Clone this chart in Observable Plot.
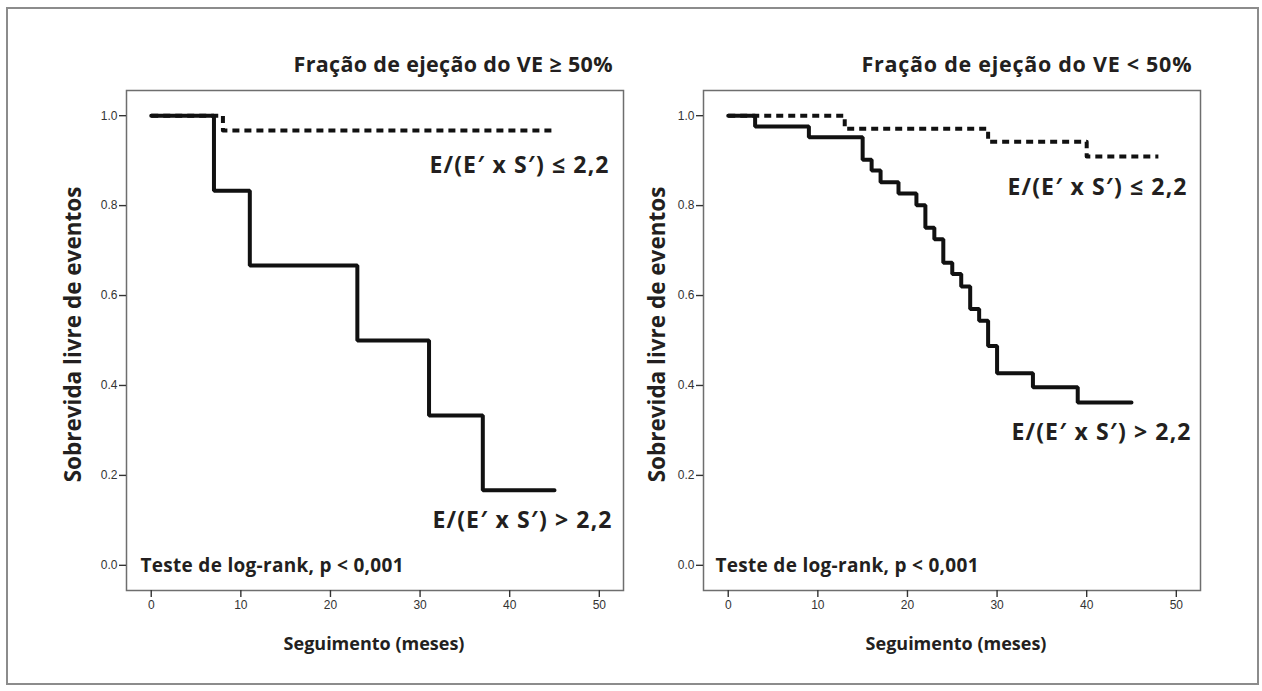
<!DOCTYPE html>
<html>
<head>
<meta charset="utf-8">
<script src="https://cdn.jsdelivr.net/npm/d3@7"></script>
<script src="https://cdn.jsdelivr.net/npm/@observablehq/plot@0.6"></script>
<style>
  html, body { margin: 0; padding: 0; background: #fff; }
  #page { position: relative; width: 1262px; height: 691px; overflow: hidden; background: #fff; }
  #border { position: absolute; left: 6px; top: 7px; width: 1253px; height: 678px; box-sizing: border-box; border: 2px solid #8c8c8c; }
  .panel { position: absolute; top: 40px; }
</style>
</head>
<body>
<div id="page"><div id="border"></div></div>
<script>
// ---- Data ----
const xTicks = [0, 10, 20, 30, 40, 50];
const yTicks = [0, 0.2, 0.4, 0.6, 0.8, 1.0];

const panelTitles = ["Fração de ejeção do VE ≥ 50%", "Fração de ejeção do VE < 50%"];
const groupLabels = ["E/(E′ x S′) ≤ 2,2", "E/(E′ x S′) > 2,2"];
const testLabel = "Teste de log-rank, p < 0,001";
const yLabel = "Sobrevida livre de eventos";
const xLabel = "Seguimento (meses)";

// Left panel: FEVE >= 50%
const leftLowTime = [0, 8, 45];
const leftLowSurv = [1.0, 0.967, 0.967];
const leftHighTime = [0, 7, 11, 23, 31, 37, 45];
const leftHighSurv = [1.0, 0.833, 0.667, 0.5, 0.333, 0.167, 0.167];

// Right panel: FEVE < 50%
const rightLowTime = [0, 13, 29, 40, 48];
const rightLowSurv = [1.0, 0.971, 0.942, 0.909, 0.909];
const rightHighTime = [0, 3, 9, 15, 16, 17, 19, 21, 22, 23, 24, 25, 26, 27, 28, 29, 30, 34, 39, 45];
const rightHighSurv = [1.0, 0.976, 0.952, 0.902, 0.878, 0.852, 0.827, 0.801, 0.751, 0.725, 0.673, 0.648, 0.620, 0.570, 0.544, 0.488, 0.427, 0.396, 0.362, 0.362];

const toRows = (T, S) => T.map((t, i) => ({t, s: S[i]}));
const LABEL_FONT = "'Open Sans', Lato, sans-serif";

function panel(opts) {
  const low = toRows(opts.lowT, opts.lowS);
  const high = toRows(opts.highT, opts.highS);
  const bold = {fontFamily: LABEL_FONT, fontWeight: "bold", fill: "#231f20"};
  return Plot.plot({
    width: 590,
    height: 620,
    marginLeft: 86,
    marginRight: 7,
    marginTop: 50,
    marginBottom: 70,
    style: {background: "transparent", overflow: "visible", fontFamily: "'Liberation Sans', Arial, sans-serif", fontSize: "12px", color: "#333"},
    x: {domain: [-2.76, 52.7], label: null},
    y: {domain: [-0.056, 1.056], label: null},
    marks: [
      Plot.frame({stroke: "#6e6e6e", strokeWidth: 1.5}),
      Plot.axisX({ticks: xTicks, tickSize: 7, tickPadding: 3, strokeWidth: 1.4, label: null, tickFormat: d3.format("d")}),
      Plot.axisY({ticks: yTicks, tickSize: 7, tickPadding: 2, strokeWidth: 1.4, label: null, tickFormat: d3.format(".1f")}),
      Plot.line(low, {x: "t", y: "s", curve: "step-after", stroke: "#111", strokeWidth: 4, strokeDasharray: "7,5", strokeLinecap: "butt"}),
      Plot.line(high, {x: "t", y: "s", curve: "step-after", stroke: "#111", strokeWidth: 4, strokeLinejoin: "miter"}),
      Plot.text([opts.title], {frameAnchor: "top-right", textAnchor: "end", lineAnchor: "bottom", dx: opts.titleDx, dy: -19, fontSize: 21.5, ...bold}),
      Plot.text([groupLabels[0]], {frameAnchor: "top-left", textAnchor: "start", lineAnchor: "bottom", dx: opts.lowDx, dy: opts.lowDy, fontSize: 23, ...bold}),
      Plot.text([groupLabels[1]], {frameAnchor: "top-left", textAnchor: "start", lineAnchor: "bottom", dx: opts.highDx, dy: opts.highDy, fontSize: 23, ...bold}),
      Plot.text([testLabel], {frameAnchor: "top-left", textAnchor: "start", lineAnchor: "bottom", dx: opts.testDx, dy: 481, fontSize: 19, ...bold}),
      Plot.text([yLabel], {frameAnchor: "left", rotate: -90, textAnchor: "middle", lineAnchor: "middle", dx: opts.yLabDx, dy: -6, fontSize: 22.5, ...bold}),
      Plot.text([xLabel], {frameAnchor: "bottom", textAnchor: "middle", lineAnchor: "middle", dx: opts.xLabDx, dy: 54, fontSize: 18, ...bold})
    ]
  });
}

// fit text runs to the widths measured on the reference (letter-spacing only)
function fitWidths(svg, widths) {
  svg.querySelectorAll("text").forEach((el) => {
    const w = widths[el.textContent];
    if (w) { el.setAttribute("textLength", w); el.setAttribute("lengthAdjust", "spacing"); }
  });
}

const page = document.getElementById("page");
const left = panel({
  title: panelTitles[0], titleDx: -11,
  lowT: leftLowTime, lowS: leftLowSurv, highT: leftHighTime, highS: leftHighSurv,
  lowDx: 303, lowDy: 82, highDx: 306, highDy: 437, testDx: 14, yLabDx: -53, xLabDx: -1
});
const right = panel({
  title: panelTitles[1], titleDx: -9,
  lowT: rightLowTime, lowS: rightLowSurv, highT: rightHighTime, highS: rightHighSurv,
  lowDx: 304, lowDy: 104, highDx: 308, highDy: 349, testDx: 12, yLabDx: -46, xLabDx: 4
});
const d1 = document.createElement("div"); d1.className = "panel"; d1.style.left = "40px"; d1.appendChild(left);
const d2 = document.createElement("div"); d2.className = "panel"; d2.style.left = "617px"; d2.appendChild(right);
page.appendChild(d1);
page.appendChild(d2);
fitWidths(left, {[panelTitles[0]]: 319, [groupLabels[0]]: 179, [groupLabels[1]]: 179, [testLabel]: 263});
fitWidths(right, {[panelTitles[1]]: 330, [groupLabels[0]]: 179, [groupLabels[1]]: 179, [testLabel]: 263});
</script>
</body>
</html>
